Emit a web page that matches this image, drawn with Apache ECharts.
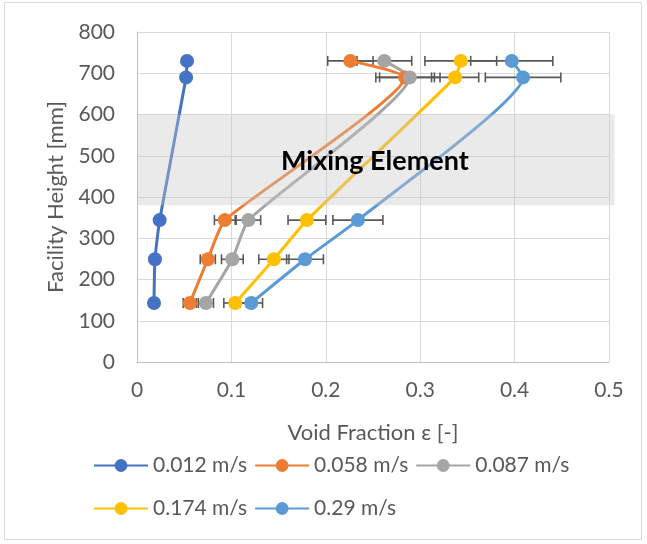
<!DOCTYPE html>
<html>
<head>
<meta charset="utf-8">
<script src="https://cdn.jsdelivr.net/npm/echarts@6/dist/echarts.min.js"></script>
<style>
html,body{margin:0;padding:0;background:#fff;}
#chart{width:647px;height:544px;}
</style>
</head>
<body>
<div id="chart"></div>
<script>
// ---- data ----
const heights = [143, 249, 344, 690, 730];           // Facility height [mm]
const seriesNames = ['0.012 m/s', '0.058 m/s', '0.087 m/s', '0.174 m/s', '0.29 m/s'];
const v012 = [0.018, 0.019, 0.024, 0.052, 0.053];
const v058 = [0.056, 0.075, 0.093, 0.284, 0.226];
const v087 = [0.073, 0.101, 0.118, 0.289, 0.262];
const v174 = [0.104, 0.145, 0.180, 0.337, 0.343];
const v290 = [0.121, 0.178, 0.234, 0.409, 0.397];
// horizontal error (±) per point
const e058 = [0.007, 0.008, 0.011, 0.031, 0.024];
const e087 = [0.008, 0.0115, 0.013, 0.032, 0.029];
const e174 = [0.012, 0.016, 0.020, 0.025, 0.038];
const e290 = [0.012, 0.0195, 0.0265, 0.040, 0.0435];
const xTicks = [0, 0.1, 0.2, 0.3, 0.4, 0.5];
const yTicks = [0, 100, 200, 300, 400, 500, 600, 700, 800];
const mixingZone = [380, 600];      // mm
const mixingX = [0, 0.506];         // band spans the plot width (slightly past 0.5)
const mixingLabel = 'Mixing Element';

const colors = ['#4472C4', '#ED7D31', '#A5A5A5', '#FFC000', '#5B9BD5'];
const values = [v012, v058, v087, v174, v290];
const errors = [null, e058, e087, e174, e290];
const FONT = 'Lato';

const chart = echarts.init(document.getElementById('chart'), null, {renderer: 'canvas'});

const series = [];
values.forEach((vals, i) => {
  series.push({
    name: seriesNames[i],
    type: 'line',
    smooth: 0.15,
    symbol: 'circle',
    symbolSize: 14,
    z: 3,
    clip: false,
    color: colors[i],
    lineStyle: {width: 3, color: colors[i]},
    itemStyle: {color: colors[i]},
    emphasis: {disabled: true},
    data: vals.map((v, k) => [v, heights[k]])
  });
});

errors.forEach((errs, i) => {
  if (!errs) return;
  series.push({
    type: 'custom',
    name: seriesNames[i] + ' err',
    z: 2,
    silent: true,
    clip: false,
    data: values[i].map((v, k) => [v - errs[k], v + errs[k], heights[k]]),
    encode: {x: [0, 1], y: 2},
    renderItem: function (params, api) {
      const lo = api.coord([api.value(0), api.value(2)]);
      const hi = api.coord([api.value(1), api.value(2)]);
      const h = 5;
      const st = {stroke: '#595959', lineWidth: 1.6};
      return {
        type: 'group',
        children: [
          {type: 'line', shape: {x1: lo[0], y1: lo[1], x2: hi[0], y2: hi[1]}, style: st},
          {type: 'line', shape: {x1: lo[0], y1: lo[1] - h, x2: lo[0], y2: lo[1] + h}, style: st},
          {type: 'line', shape: {x1: hi[0], y1: hi[1] - h, x2: hi[0], y2: hi[1] + h}, style: st}
        ]
      };
    }
  });
});

// translucent "Mixing Element" band drawn over the lines
series.push({
  name: 'mixing',
  type: 'custom',
  z: 6,
  silent: true,
  clip: false,
  data: [[mixingX[0], mixingZone[0], mixingX[1], mixingZone[1]]],
  encode: {x: [0, 2], y: [1, 3]},
  renderItem: function (params, api) {
    const p0 = api.coord([api.value(0), api.value(1)]);
    const p1 = api.coord([api.value(2), api.value(3)]);
    const pc = api.coord([(xTicks[0] + xTicks[xTicks.length - 1]) / 2 + 0.002,
                          (api.value(1) + api.value(3)) / 2]);
    return {
      type: 'group',
      children: [
        {type: 'rect',
         shape: {x: p0[0], y: p1[1], width: p1[0] - p0[0], height: p0[1] - p1[1]},
         style: {fill: 'rgba(200,200,200,0.38)'}},
        {type: 'text',
         style: {x: pc[0], y: pc[1] + 1, text: mixingLabel, align: 'center', verticalAlign: 'middle',
                 fontFamily: FONT, fontWeight: 'bold', fontSize: 27, fill: '#000'}}
      ]
    };
  }
});

const legendBase = {
  orient: 'horizontal',
  left: 93,
  padding: 0,
  itemWidth: 54,
  itemHeight: 16,
  itemGap: 7,
  textStyle: {fontFamily: FONT, fontSize: 21, color: '#595959'},
  selectedMode: false
};

chart.setOption({
  animation: false,
  backgroundColor: '#fff',
  textStyle: {fontFamily: FONT},
  grid: {left: 137, right: 38, top: 32, bottom: 182, containLabel: false},
  legend: [
    Object.assign({}, legendBase, {top: 455, data: seriesNames.slice(0, 3)}),
    Object.assign({}, legendBase, {top: 498, data: seriesNames.slice(3)})
  ],
  xAxis: {
    type: 'value',
    min: xTicks[0], max: xTicks[xTicks.length - 1], interval: 0.1,
    name: 'Void Fraction ε [-]',
    nameLocation: 'middle',
    nameGap: 60,
    nameTextStyle: {fontFamily: FONT, fontSize: 22, color: '#595959'},
    axisLine: {show: true, lineStyle: {color: '#BFBFBF', width: 1}},
    axisTick: {show: false},
    axisLabel: {fontFamily: FONT, fontSize: 21, color: '#595959', margin: 18,
      formatter: v => String(v)},
    splitLine: {show: true, lineStyle: {color: '#D9D9D9', width: 1}}
  },
  yAxis: {
    type: 'value',
    min: yTicks[0], max: yTicks[yTicks.length - 1], interval: 100,
    name: 'Facility Height [mm]',
    nameLocation: 'middle',
    nameGap: 70,
    nameTextStyle: {fontFamily: FONT, fontSize: 22, color: '#595959'},
    axisLine: {show: true, lineStyle: {color: '#BFBFBF', width: 1}},
    axisTick: {show: false},
    axisLabel: {fontFamily: FONT, fontSize: 21, color: '#595959', margin: 22},
    splitLine: {show: true, lineStyle: {color: '#D9D9D9', width: 1}}
  },
  graphic: [{
    type: 'rect', silent: true, z: -10,
    shape: {x: 4.5, y: 2.5, width: 637, height: 537},
    style: {fill: 'none', stroke: '#D9D9D9', lineWidth: 1}
  }],
  series: series
});
</script>
</body>
</html>
